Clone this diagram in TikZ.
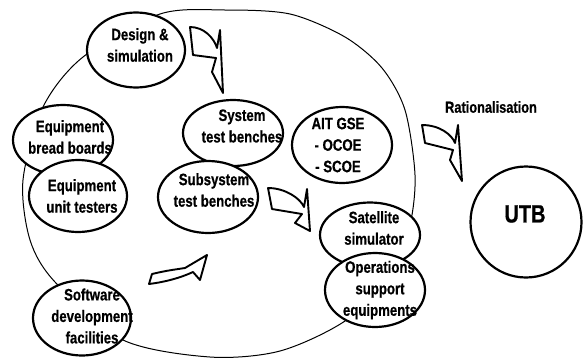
\documentclass[tikz,border=0pt]{standalone}
\usepackage{fontspec}
\setmainfont{Liberation Sans}[FakeStretch=0.8,BoldFeatures={FakeBold=0.6}]
\usetikzlibrary{shapes.geometric}
\tikzset{
  blob/.style={draw,ellipse,line width=2.2pt,fill=white,inner sep=0pt},
  blobtext/.style={align=center,inner sep=0pt,font=\bfseries\fontsize{16.5}{21.5}\selectfont},
  swoosh/.style={draw,line width=1.9pt,fill=white,line join=round},
  rim/.style={line width=1pt}
}

\begin{document}
\begin{tikzpicture}[x=1pt,y=-1pt]
    \useasboundingbox (0,0) rectangle (585,362);
    \draw[rim] plot[smooth cycle] coordinates {(225,10) (290,14) (345,37) (382,68) (405,110)
      (415,175) (410,225) (392,275) (345,321) (280,351) (210,357) (123,340) (55,282)
      (30,240) (23,180) (43,107) (83,57) (160,14)};

    \node[blob,minimum width=98pt,minimum height=75pt] (design) at (136,50) {};
    \node[blob,minimum width=100pt,minimum height=70pt] (bread) at (63,140) {};
    \node[blob,minimum width=98pt,minimum height=72pt] (unit) at (78,196) {};
    \node[blob,minimum width=100pt,minimum height=66pt] (system) at (233,133) {};
    \node[blob,minimum width=100pt,minimum height=72pt] (subsys) at (208,197) {};
    \node[blob,minimum width=100pt,minimum height=76pt] (aitgse) at (342,145) {};
    \node[blob,minimum width=100pt,minimum height=65pt] (satsim) at (370,235) {};
    \node[blob,minimum width=100pt,minimum height=74pt] (ops) at (375,290) {};
    \node[blob,minimum width=98pt,minimum height=75pt] (sw) at (82,318) {};
    \node[draw,circle,line width=2.2pt,minimum size=111pt] (utb) at (526,222) {};

    \draw[swoosh] (190,27) .. controls (204,27) and (214,38) .. (217,48) -- (220,30)
      -- (223,93) -- (212,72) -- (216,58) -- (193,55) -- cycle;
    \draw[swoosh] (152,274) .. controls (165,271) .. (185,268) -- (207,255) -- (200,280)
      -- (193,272) .. controls (180,278) and (165,282) .. (149,284) -- cycle;
    \draw[swoosh] (268,188) .. controls (285,188) and (300,198) .. (304,207) -- (307,189)
      -- (310,231) -- (295,223) -- (302,214) -- (272,209) -- cycle;
    \draw[swoosh] (422,125) .. controls (440,125) and (452,135) .. (455,143) -- (458,125)
      -- (462,181) -- (450,160) -- (453,150) -- (425,143) -- cycle;

    \node[blobtext] (design-t) at (140,45) {Design \&\\simulation};
    \node[blobtext] (bread-t) at (70,137) {Equipment\\bread boards};
    \node[blobtext] (unit-t) at (82,196) {Equipment\\unit testers};
    \node[blobtext] (system-t) at (242,126) {System\\test benches};
    \node[blobtext] (subsys-t) at (214,190) {Subsystem\\test benches};
    \node[blobtext] (aitgse-t) at (338,145) {AIT GSE\\- OCOE\\- SCOE};
    \node[blobtext] (satsim-t) at (374,228) {Satellite\\simulator};
    \node[blobtext] (ops-t) at (380,290) {Operations\\support\\equipments};
    \node[blobtext] (sw-t) at (92,316) {Software\\development\\facilities};
    \node[blobtext,font=\bfseries\fontsize{25}{27}\selectfont] (utb-t) at (525,214) {UTB};
    \node[blobtext,font=\bfseries\fontsize{16}{18}\selectfont] (ratio) at (491,107) {Rationalisation};
\end{tikzpicture}
\end{document}
